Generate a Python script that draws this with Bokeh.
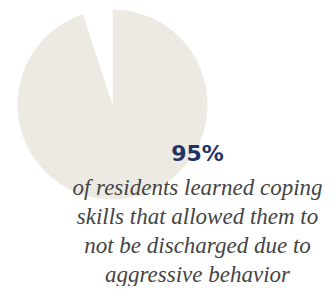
import math
from bokeh.plotting import figure
from bokeh.models import Range1d, ColumnDataSource
from bokeh.core.properties import value
from bokeh.embed import file_html
from bokeh.resources import INLINE

# data
slice_labels = ["learned coping skills", "other"]
slice_values = [95, 5]
slice_colors = ["#EDEAE4", "#FFFFFF"]
headline = "95%"
caption_lines = [
    "of residents learned coping",
    "skills that allowed them to",
    "not be discharged due to",
    "aggressive behavior",
]

W, H = 327, 286
p = figure(width=W, height=H, output_backend="svg", toolbar_location=None,
           x_range=Range1d(0, W), y_range=Range1d(-H, 0),
           min_border=0, outline_line_color=None, background_fill_color="white")
p.axis.visible = False
p.grid.visible = False

# pie: slices go clockwise starting at 12 o'clock
total = sum(slice_values)
starts, ends = [], []
cum = 0.0
for v in slice_values:
    a0 = math.pi / 2 - 2 * math.pi * cum / total
    cum += v
    a1 = math.pi / 2 - 2 * math.pi * cum / total
    starts.append(a1)
    ends.append(a0)
src = ColumnDataSource(dict(label=slice_labels, value=slice_values,
                            start=starts, end=ends, color=slice_colors))
p.wedge(x=112, y=-104, radius=95, start_angle="start", end_angle="end",
        direction="anticlock", fill_color="color", line_color=None, source=src)

p.text(x=[197], y=[-153], text=[headline], text_font=value("DejaVu Sans"),
       text_font_style="bold", text_font_size="22px", text_color="#1F3566",
       text_align="center", text_baseline="alphabetic")

baselines = [-187, -216, -245, -274]
p.text(x=[197] * len(caption_lines), y=baselines, text=caption_lines,
       text_font=value("Liberation Serif"), text_font_style="italic",
       text_font_size="23px", text_color="#444444",
       text_align="center", text_baseline="alphabetic")

open("out.html", "w").write(file_html(p, INLINE))
